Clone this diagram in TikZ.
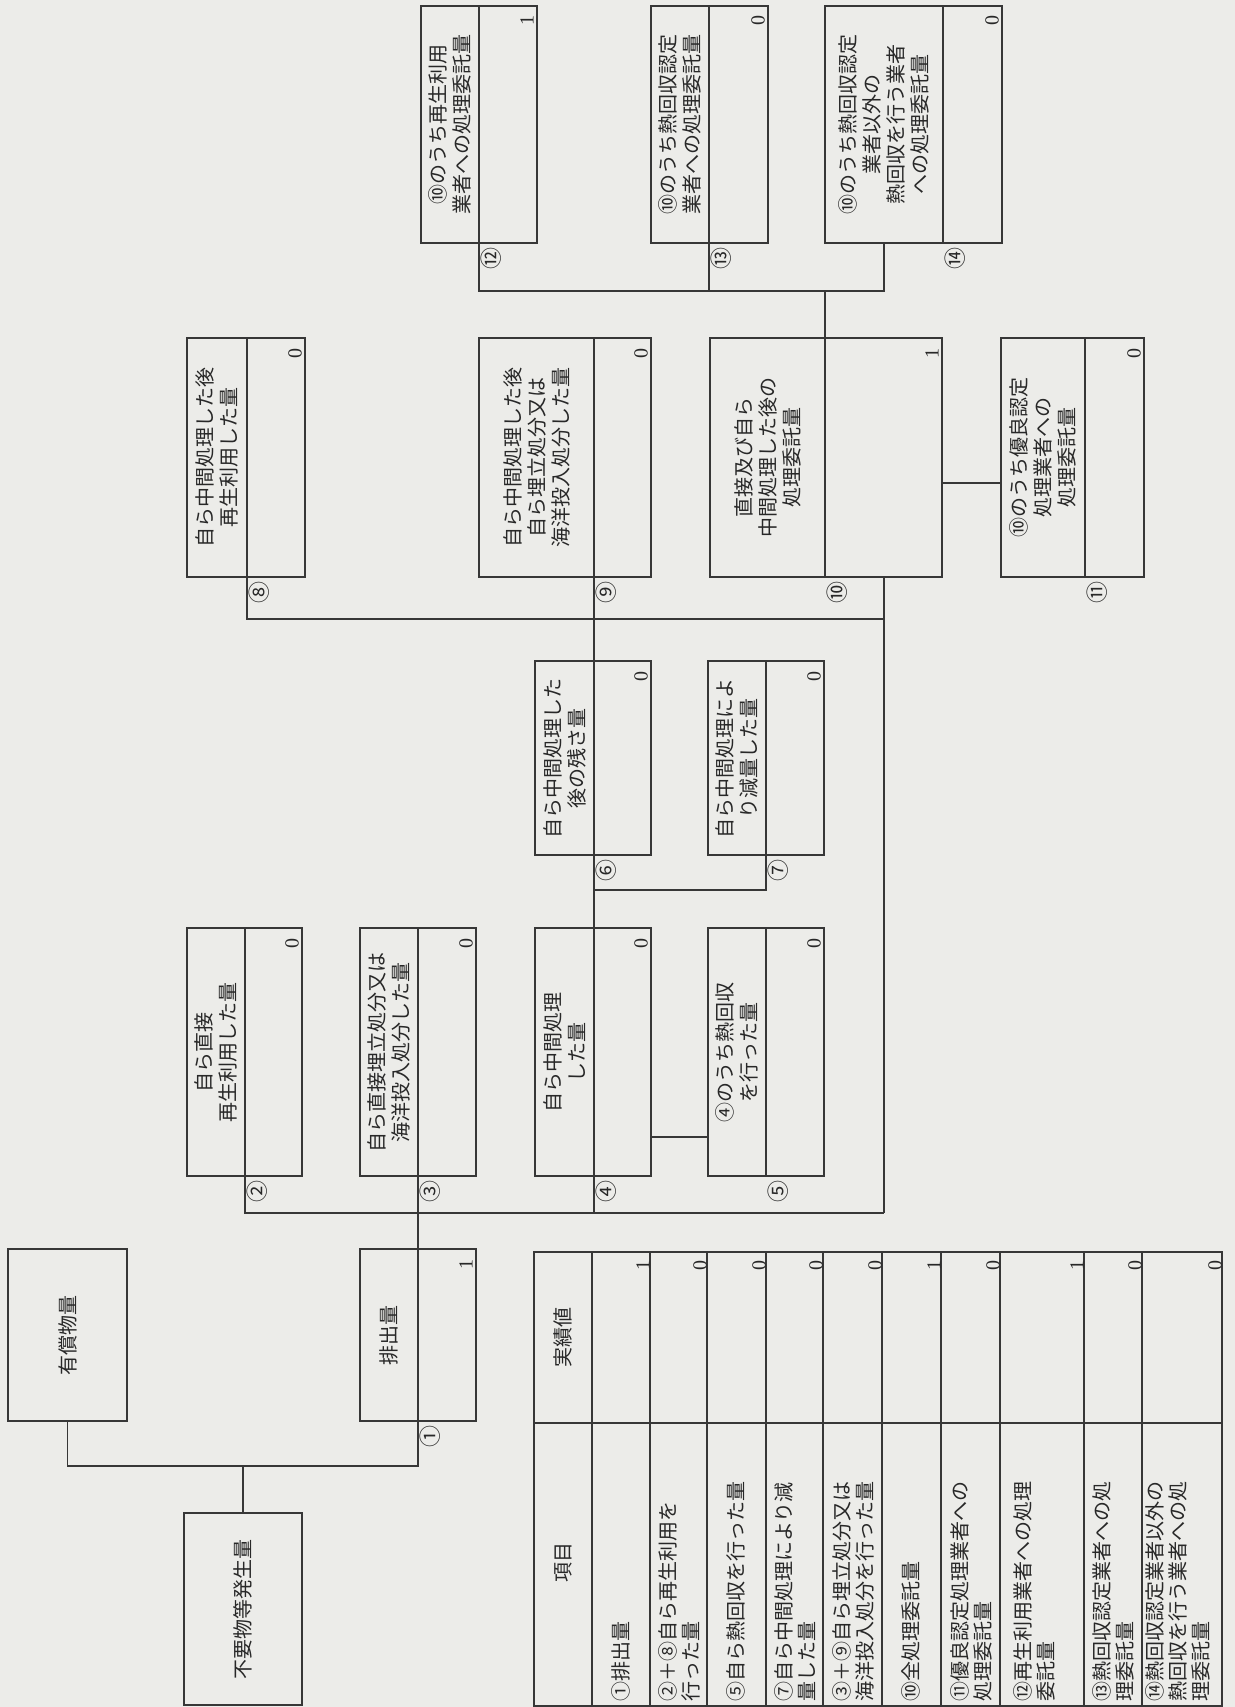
\documentclass[tikz,border=0pt]{standalone}
\usepackage{fontspec}
\setmainfont{Liberation Serif}
\newfontfamily\jp{Noto Sans CJK JP}
\usetikzlibrary{fit}
\definecolor{bgc}{RGB}{236,236,233}
\definecolor{linec}{RGB}{55,55,55}
\definecolor{txtc}{RGB}{40,40,40}
\newcommand\cbox[9]{%
  \node[boxs, fit={(#2,#3) (#4,#5)}] (#1) {};
  \coordinate (#1u) at (#6,#3);
  \coordinate (#1d) at (#6,#5);
  \draw[ln] (#1u) -- (#1d);
  \node[ttl] (#1t) at ({(#2+#6)/2},{(#3+#5)/2}) {#7};
  \node[val] (#1v) at ({#4-10},{#3+15}) {#8};
  \node[lbl] (#1l) at ({#6+12},{#5+15}) {#9};
}
\begin{document}
\begin{tikzpicture}[x=0.5pt,y=-0.5pt,
  ln/.style={draw=linec, line width=0.6pt},
  boxs/.style={draw=linec, line width=0.6pt, inner sep=0pt},
  ttl/.style={rotate=90, align=center, inner sep=0pt, text=txtc,
    font={\jp\fontsize{10pt}{12pt}\selectfont}},
  itm/.style={rotate=90, anchor=west, align=left, inner sep=0pt, text=txtc,
    font={\jp\fontsize{10pt}{11.5pt}\selectfont}},
  val/.style={rotate=90, inner sep=0pt, text=txtc,
    font={\fontsize{10pt}{12pt}\selectfont}},
  lbl/.style={rotate=90, inner sep=0pt, text=txtc,
    font={\jp\fontsize{11pt}{12pt}\selectfont}}]
\path[use as bounding box, fill=bgc] (0,0) rectangle (1235,1707);

% ---- boxes ----
\cbox{b12}{421}{6}{537}{243}{479}{⑩のうち再生利用\\業者への処理委託量}{1}{⑫}
\cbox{b13}{651}{6}{768}{243}{709}{⑩のうち熱回収認定\\業者への処理委託量}{0}{⑬}
\cbox{b14}{825}{6}{1002}{243}{943}{⑩のうち熱回収認定\\業者以外の\\熱回収を行う業者\\への処理委託量}{0}{⑭}
\cbox{b8}{187}{338}{305}{577}{247}{自ら中間処理した後\\再生利用した量}{0}{⑧}
\cbox{b9}{479}{338}{651}{577}{594}{自ら中間処理した後\\自ら埋立処分又は\\海洋投入処分した量}{0}{⑨}
\cbox{b10}{710}{338}{942}{577}{825}{直接及び自ら\\中間処理した後の\\処理委託量}{1}{⑩}
\cbox{b11}{1001}{338}{1144}{577}{1085}{⑩のうち優良認定\\処理業者への\\処理委託量}{0}{⑪}
\cbox{b6}{535}{661}{651}{855}{594}{自ら中間処理した\\後の残さ量}{0}{⑥}
\cbox{b7}{708}{661}{824}{855}{766}{自ら中間処理によ\\り減量した量}{0}{⑦}
\cbox{b2}{187}{928}{302}{1176}{245}{自ら直接\\再生利用した量}{0}{②}
\cbox{b3}{360}{928}{476}{1176}{418}{自ら直接埋立処分又は\\海洋投入処分した量}{0}{③}
\cbox{b4}{535}{928}{651}{1176}{594}{自ら中間処理\\した量}{0}{④}
\cbox{b5}{708}{928}{824}{1176}{766}{④のうち熱回収\\を行った量}{0}{⑤}
\cbox{bE}{360}{1249}{476}{1421}{418}{排出量}{1}{①}
\node[boxs, fit={(8,1249) (127,1421)}] (bY) {};
\node[ttl] (bYt) at (bY.center) {有償物量};
\node[boxs, fit={(184,1513) (302,1705)}] (bF) {};
\node[ttl] (bFt) at (bF.center) {不要物等発生量};

% ---- connectors ----
\coordinate (busT) at (0,291);
\coordinate (k14) at (884,243);
\draw[ln] (b12d) -- (b12d |- busT) -| (k14);
\draw[ln] (b13d) -- (b13d |- busT);
\draw[ln] (b10u) -- (b10u |- busT);

\coordinate (busM) at (0,619);
\coordinate (busL) at (0,1213);
\coordinate (k10) at (884,577);
\draw[ln] (b8d) |- (k10 |- busM);
\draw[ln] (k10) -- (k10 |- busL);
\draw[ln] (b9d) -- (b6u);
\coordinate (y483) at (0,483);
\draw[ln] (b10.east |- y483) -- (b11.west |- y483);

\coordinate (busS) at (0,890);
\draw[ln] (b6d) |- (b7d |- busS) -- (b7d);
\draw[ln] (b6d) -- (b4u);

\coordinate (y1137) at (0,1137);
\draw[ln] (b4.east |- y1137) -- (b5.west |- y1137);
\draw[ln] (b2d) |- (k10 |- busL);
\draw[ln] (b4d) -- (b4d |- busL);
\draw[ln] (b3d) -- (bEu);

\coordinate (busB) at (0,1466);
\draw[ln] (bEd) -- (bEd |- busB) -| (bY.south);
\draw[ln] (bF.north) -- (bF.north |- busB);

% ---- table ----
\node[boxs, fit={(534,1252) (1222,1706)}] (tbl) {};
\coordinate (th) at (0,1423);
\draw[ln] (tbl.west |- th) -- (tbl.east |- th);
\foreach \x in {592,650,707,766,823,882,941,1000,1084,1142}
  \draw[ln] (\x,1252) -- (\x,1706);
\node[ttl] (hk) at (563,1562) {項目};
\node[ttl] (hj) at (563,1337) {実績値};
\foreach \xc/\xr/\t/\v [count=\i] in {
  621/650/{①排出量}/1,
  679/707/{②＋⑧自ら再生利用を\\行った量}/0,
  736/766/{⑤自ら熱回収を行った量}/0,
  795/823/{⑦自ら中間処理により減\\量した量}/0,
  853/882/{③＋⑨自ら埋立処分又は\\海洋投入処分を行った量}/0,
  911/941/{⑩全処理委託量}/1,
  971/1000/{⑪優良認定処理業者への\\処理委託量}/0,
  1034/1084/{⑫再生利用業者への処理\\委託量}/1,
  1113/1142/{⑬熱回収認定業者への処\\理委託量}/0,
  1178/1222/{⑭熱回収認定業者以外の\\熱回収を行う業者への処\\理委託量}/0}{
  \node[itm] (r\i) at (\xc,1702) {\t};
  \node[val] (v\i) at ({\xr-7},1265) {\v};
}
\end{tikzpicture}
\end{document}
